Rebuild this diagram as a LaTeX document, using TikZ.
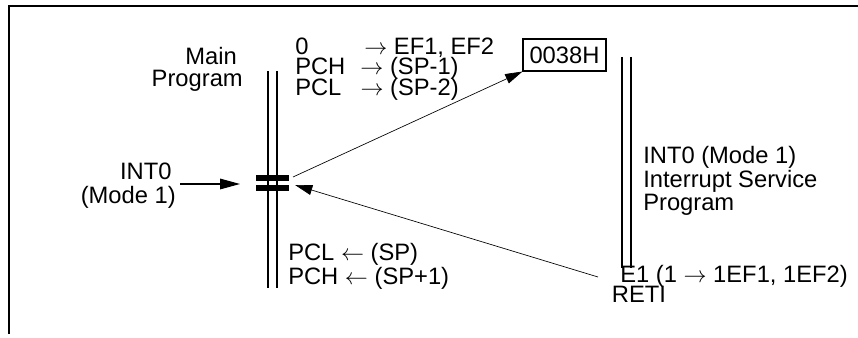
\documentclass[tikz,border=0pt]{standalone}
\usepackage{fontspec}
\setmainfont{Liberation Sans}
\usetikzlibrary{arrows.meta}
\setlength{\lineskiplimit}{-5pt}
\begin{document}
\begin{tikzpicture}[x=0.75pt,y=-0.75pt,
  every node/.style={font=\fontsize{17.8}{16.5}\selectfont, inner sep=0pt},
  prog/.style={line width=1pt},
  brkbar/.style={line width=4.6pt},
  arr/.style={-{Triangle[length=13pt,width=7.5pt]}, line width=0.5pt},
  txt/.style={align=left, anchor=north west}]
\useasboundingbox (0,0) rectangle (858,338);
\draw[line width=1pt] (9,334) -- (9,6) -- (858,6);

\draw[prog] (268,71) -- (268,288);
\draw[prog] (277,71) -- (277,288);
\draw[brkbar] (256,178.3) -- (289,178.3);
\draw[brkbar] (256,188) -- (289,188);
\coordinate (brkout) at (293,177);
\coordinate (brkin) at (295,185);
\node[align=right, anchor=north east] (mainlbl) at (243,47.3) {Main\hspace*{4.5pt}\\Program};

\node[align=right, anchor=north east, font=\fontsize{17.8}{18}\selectfont] (intlbl) at (176,162.3) {INT0\hspace*{3.2pt}\\(Mode 1)};
\coordinate (intsrc) at (180,184);
\coordinate (inttip) at (240,184);
\draw[-{Triangle[length=15pt,width=8pt]}, line width=0.8pt] (intsrc) -- (inttip);

\node[txt, font=\fontsize{17.8}{15.4}\selectfont] (push) at (295,37.5) {0\hspace*{41.9pt}$\rightarrow$ EF1, EF2\\
  PCH\hspace*{11.3pt}$\rightarrow$ (SP-1)\\
  PCL\hspace*{14.3pt}$\rightarrow$ (SP-2)};
\node[draw, line width=0.8pt, minimum width=62.25pt, minimum height=24pt] (vec) at (564.5,55) {0038H};
\draw[arr] (brkout) -- (vec.south west);

\draw[prog] (622,57) -- (622,268);
\draw[prog] (631,57) -- (631,268);
\node[txt, font=\fontsize{17.8}{17.6}\selectfont] (isrlbl) at (643,146.3) {INT0 (Mode 1)\\Interrupt Service\\Program};

\node[txt] (eone) at (620,264.7) {E1 (1 $\rightarrow$ 1EF1, 1EF2)};
\node[txt] (reti) at (611.7,286.3) {RETI};
\coordinate (retsrc) at (598,277);
\draw[arr] (retsrc) -- (brkin);

\node[txt, font=\fontsize{17.8}{17.3}\selectfont] (pop) at (288,243.5) {PCL $\leftarrow$ (SP)\\PCH $\leftarrow$ (SP+1)};
\end{tikzpicture}
\end{document}
